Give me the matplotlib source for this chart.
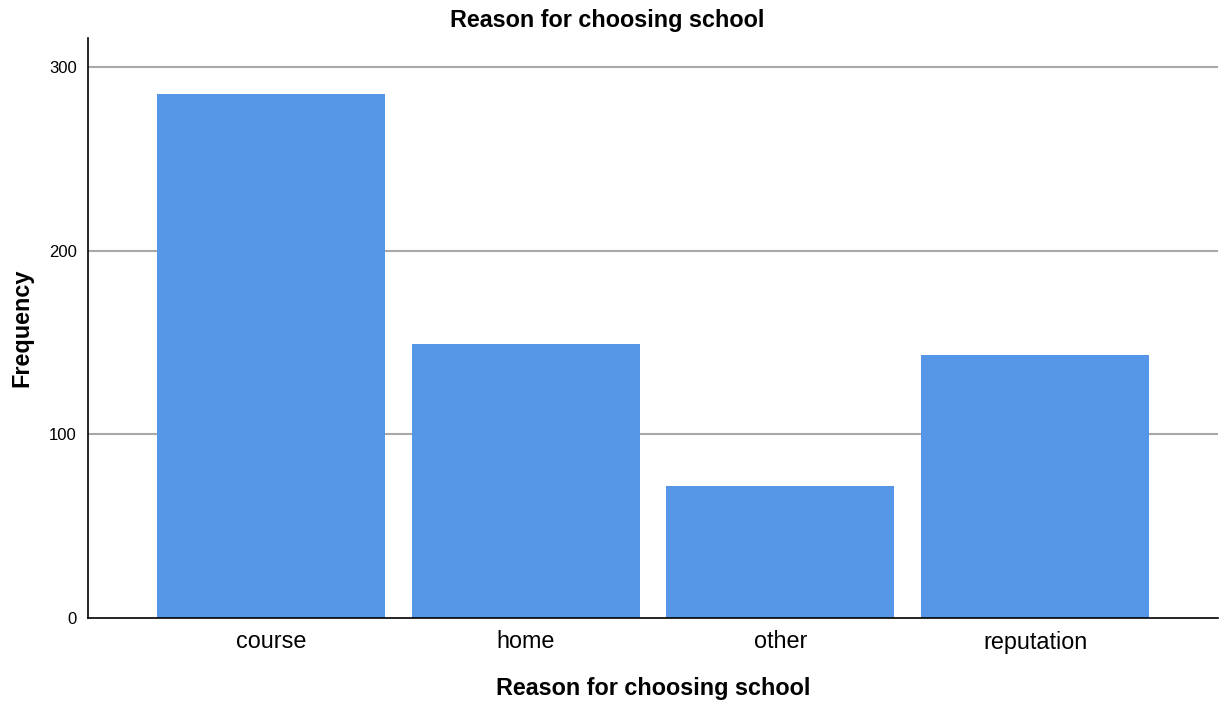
import matplotlib.pyplot as plt
import numpy as np

plt.rcParams['font.family'] = ['Liberation Sans', 'DejaVu Sans']

reasons = ['course', 'home', 'other', 'reputation']
counts = [285, 149, 72, 143]
yticks = [0, 100, 200, 300]

fig = plt.figure(figsize=(12.21, 7.08), dpi=100)
# axes box in pixels: left 88, right 1218, bottom 618 (from top), top 38
ax = fig.add_axes([88 / 1221, 1 - 618 / 708, 1130 / 1221, 580 / 708])

x = np.arange(len(reasons))
ax.bar(x, counts, width=0.896, color='#5596E6', zorder=2)

ax.set_xlim(-0.718, 3.718)
ax.set_ylim(0, 315.7)
ax.set_yticks(yticks)
ax.set_yticklabels([str(t) for t in yticks], fontsize=12)
ax.set_xticks(x)
ax.set_xticklabels(reasons, fontsize=16.8)
ax.tick_params(axis='both', length=0)
ax.tick_params(axis='y', pad=8)
ax.tick_params(axis='x', pad=9)

for t in yticks[1:]:
    ax.axhline(t, color='#a8a8a8', lw=1.5, zorder=1)

for s in ['top', 'right']:
    ax.spines[s].set_visible(False)
ax.spines['left'].set_linewidth(1.2)
ax.spines['bottom'].set_linewidth(1.2)

ax.set_xlabel('Reason for choosing school', fontsize=16.8, fontweight='bold')
ax.xaxis.set_label_coords((653 - 88) / 1130, -(689 - 618) / 580)
ax.xaxis.label.set_va('center')
ax.set_ylabel('Frequency', fontsize=16.8, fontweight='bold')
ax.yaxis.set_label_coords((22 - 88) / 1130, (618 - 328) / 580)
ax.yaxis.label.set_va('center')
fig.text(607 / 1221, 1 - 20 / 708, 'Reason for choosing school', fontsize=16.8,
         fontweight='bold', ha='center', va='center')

plt.savefig('out.png', dpi=100)
